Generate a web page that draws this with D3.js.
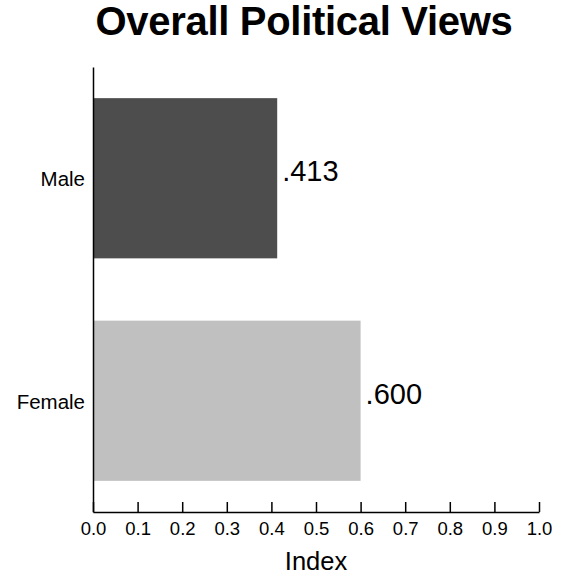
<!DOCTYPE html>
<html>
<head>
<meta charset="utf-8">
<script src="https://cdn.jsdelivr.net/npm/d3@7"></script>
<style>
  html, body { margin: 0; padding: 0; background: #fff; }
  svg { display: block; font-family: "Liberation Sans", Arial, Helvetica, sans-serif; }
</style>
</head>
<body>
<svg id="chart" width="580" height="580"></svg>
<script>
const title = "Overall Political Views";
const categories = ["Male", "Female"];
const values = [0.413, 0.600];
const valueLabels = [".413", ".600"];
const barColors = ["#4d4d4d", "#c0c0c0"];
const xTicks = [0, 0.1, 0.2, 0.3, 0.4, 0.5, 0.6, 0.7, 0.8, 0.9, 1.0];
const xTitle = "Index";

const svg = d3.select("#chart");
const margin = { left: 93, right: 41, top: 67, bottom: 68 };
const W = 580, H = 580;

const x = d3.scaleLinear().domain([0, 1]).range([margin.left, W - margin.right]);
const y = d3.scaleBand().domain(categories).range([margin.top, H - margin.bottom])
  .paddingInner(0.28).paddingOuter(0.14);

// bars
svg.append("g").selectAll("rect")
  .data(categories)
  .join("rect")
  .attr("x", x(0))
  .attr("y", d => y(d))
  .attr("width", (d, i) => x(values[i]) - x(0))
  .attr("height", y.bandwidth())
  .attr("fill", (d, i) => barColors[i]);

// value labels
svg.append("g").selectAll("text")
  .data(categories)
  .join("text")
  .attr("x", (d, i) => x(values[i]) + 5)
  .attr("y", d => y(d) + y.bandwidth() / 2 + 3)
  .attr("font-size", 29)
  .attr("fill", "#000")
  .text((d, i) => valueLabels[i]);

// x axis
const xAxis = d3.axisBottom(x)
  .tickValues(xTicks)
  .tickFormat(d3.format(".1f"))
  .tickSizeInner(-10)
  .tickSizeOuter(0)
  .tickPadding(10);
const gx = svg.append("g")
  .attr("transform", `translate(0,${H - margin.bottom})`)
  .call(xAxis);
gx.select(".domain").attr("stroke", "#000").attr("stroke-width", 1.5);
gx.selectAll(".tick line").attr("stroke", "#000").attr("stroke-width", 1.5);
gx.selectAll(".tick text").attr("font-size", 18.5).attr("fill", "#000")
  .attr("font-family", "'Liberation Sans', Arial, sans-serif");

// y axis
const yAxis = d3.axisLeft(y).tickSize(0).tickSizeOuter(0).tickPadding(8);
const gy = svg.append("g")
  .attr("transform", `translate(${margin.left},0)`)
  .call(yAxis);
gy.select(".domain").attr("stroke", "#000").attr("stroke-width", 1.5);
gy.selectAll(".tick text").attr("font-size", 20.5).attr("fill", "#000").attr("dy", "0.4em")
  .attr("font-family", "'Liberation Sans', Arial, sans-serif");

// x title
svg.append("text")
  .attr("x", (x(0) + x(1)) / 2)
  .attr("y", 570)
  .attr("text-anchor", "middle")
  .attr("font-size", 25.5)
  .attr("fill", "#000")
  .text(xTitle);

// chart title
svg.append("text")
  .attr("x", 304)
  .attr("y", 35)
  .attr("text-anchor", "middle")
  .attr("font-size", 40)
  .attr("font-weight", "bold")
  .attr("letter-spacing", "-0.3")
  .attr("fill", "#000")
  .text(title);
</script>
</body>
</html>
